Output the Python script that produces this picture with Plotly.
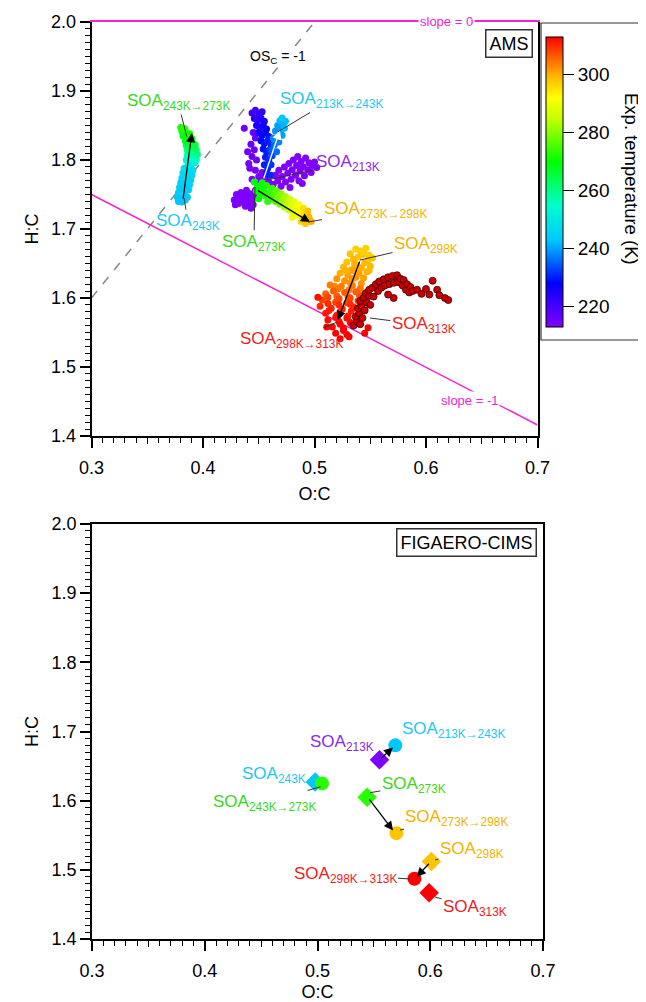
import plotly.graph_objects as go

# the page puts the figure 8 px from the top-left corner, so the figure is 8 px smaller
OFF = 8
FW, FH = 646 - OFF, 1002 - OFF
FONT = "Liberation Sans, Arial, sans-serif"
MAGENTA = "#f025d5"


def px_x(p):
    return (p - OFF) / FW


def px_y(p):
    return 1 - (p - OFF) / FH


# ---------------- AMS data (O:C, H:C, experiment temperature K) ----------------
ams_243_oc = [0.378, 0.381, 0.384, 0.377, 0.380, 0.383, 0.386, 0.378, 0.381, 0.384, 0.387, 0.379, 0.382, 0.385,
              0.388, 0.380, 0.383, 0.386, 0.389, 0.381, 0.384, 0.387, 0.390, 0.382, 0.385, 0.388, 0.391, 0.383,
              0.386, 0.389]
ams_243_hc = [1.740, 1.739, 1.742, 1.746, 1.747, 1.749, 1.746, 1.753, 1.755, 1.754, 1.757, 1.760, 1.762, 1.761,
              1.764, 1.767, 1.769, 1.768, 1.771, 1.774, 1.776, 1.775, 1.778, 1.781, 1.783, 1.782, 1.785, 1.788,
              1.790, 1.789]
ams_243_T = [243, 243, 243, 243, 243, 243, 243, 244, 244, 244, 244, 244, 244, 244,
             245, 245, 245, 245, 245, 246, 246, 246, 246, 247, 247, 247, 247, 248,
             248, 248]

ams_243_273_oc = [0.387, 0.390, 0.393, 0.385, 0.388, 0.391, 0.394, 0.386, 0.389, 0.392, 0.395, 0.386, 0.389, 0.392,
                  0.394, 0.385, 0.388, 0.391, 0.393, 0.384, 0.387, 0.390, 0.382, 0.385, 0.388, 0.381, 0.384, 0.380,
                  0.383]
ams_243_273_hc = [1.795, 1.797, 1.796, 1.800, 1.802, 1.803, 1.801, 1.807, 1.809, 1.810, 1.808, 1.814, 1.816, 1.817,
                  1.815, 1.821, 1.823, 1.824, 1.822, 1.828, 1.830, 1.831, 1.835, 1.837, 1.838, 1.842, 1.844, 1.847,
                  1.846]
ams_243_273_T = [250, 251, 252, 253, 254, 255, 256, 257, 258, 259, 260, 261, 262, 263,
                 263, 264, 265, 266, 266, 267, 268, 269, 270, 270, 271, 271, 272, 272,
                 273]

ams_213_oc = [0.428, 0.430, 0.432, 0.433, 0.434, 0.436, 0.437, 0.438, 0.439, 0.440, 0.441, 0.442, 0.444, 0.445,
              0.446, 0.447, 0.429, 0.443,
              0.449, 0.452, 0.455, 0.450, 0.456, 0.459, 0.461, 0.453, 0.447, 0.444,
              0.441, 0.444, 0.446, 0.443, 0.447, 0.437, 0.440, 0.442, 0.448, 0.445,
              0.463, 0.465, 0.467, 0.468, 0.470, 0.471, 0.473, 0.474, 0.476, 0.477, 0.479, 0.480, 0.481, 0.483,
              0.484, 0.486, 0.487, 0.488, 0.490, 0.491, 0.492, 0.494, 0.495, 0.497, 0.498, 0.500, 0.502, 0.485,
              0.478, 0.489]
ams_213_hc = [1.742, 1.750, 1.737, 1.745, 1.753, 1.740, 1.748, 1.733, 1.756, 1.744, 1.737, 1.751, 1.742, 1.735,
              1.748, 1.756, 1.735, 1.730,
              1.765, 1.770, 1.765, 1.776, 1.775, 1.768, 1.778, 1.782, 1.785, 1.772,
              1.795, 1.805, 1.815, 1.823, 1.832, 1.846, 1.812, 1.788, 1.800, 1.840,
              1.765, 1.778, 1.770, 1.785, 1.762, 1.776, 1.790, 1.768, 1.781, 1.795, 1.772, 1.786, 1.800, 1.778,
              1.792, 1.770, 1.784, 1.798, 1.790, 1.777, 1.803, 1.786, 1.796, 1.782, 1.792, 1.797, 1.789, 1.805,
              1.760, 1.766]
ams_213_T = [213, 213, 213, 213, 213, 213, 213, 213, 213, 213, 213, 213, 213, 213,
             213, 213, 213, 213,
             214, 214, 213, 214, 214, 213, 213, 214, 214, 213,
             214, 215, 215, 216, 216, 215, 215, 214, 215, 216,
             213, 213, 213, 213, 213, 213, 213, 213, 213, 213, 213, 213, 213, 213,
             213, 213, 213, 213, 213, 213, 213, 213, 213, 213, 213, 213, 213, 213,
             213, 213]

ams_213_243_oc = [0.444, 0.447, 0.450, 0.453, 0.446, 0.449, 0.452, 0.455, 0.448, 0.451, 0.454, 0.457, 0.450, 0.453,
                  0.456, 0.459, 0.452, 0.455, 0.458, 0.461, 0.454, 0.457, 0.460, 0.456, 0.459, 0.462, 0.455, 0.458,
                  0.461, 0.457, 0.460,
                  0.462, 0.464, 0.466, 0.463, 0.468, 0.465, 0.470, 0.467, 0.472, 0.469, 0.474, 0.471, 0.466, 0.468,
                  0.471, 0.473]
ams_213_243_hc = [1.868, 1.872, 1.866, 1.870, 1.860, 1.857, 1.861, 1.856, 1.850, 1.846, 1.850, 1.845, 1.840, 1.836,
                  1.840, 1.834, 1.828, 1.824, 1.828, 1.822, 1.816, 1.812, 1.815, 1.804, 1.800, 1.806, 1.793, 1.788,
                  1.793, 1.781, 1.778,
                  1.814, 1.822, 1.830, 1.832, 1.838, 1.842, 1.845, 1.850, 1.852, 1.857, 1.856, 1.861, 1.812, 1.826,
                  1.836, 1.846]
ams_213_243_T = [221, 220, 222, 223, 223, 222, 224, 225, 225, 224, 226, 227, 226, 227,
                 228, 229, 228, 229, 230, 231, 229, 230, 232, 230, 231, 233, 230, 231,
                 232, 230, 231,
                 235, 236, 237, 238, 239, 239, 240, 240, 241, 242, 242, 243, 236, 238,
                 240, 242]

ams_273_298_oc = [0.446, 0.449, 0.451, 0.448, 0.453, 0.454, 0.456, 0.457, 0.459, 0.460, 0.462, 0.463, 0.465, 0.466,
                  0.467, 0.469, 0.470, 0.471, 0.473, 0.474, 0.475, 0.477, 0.478, 0.479, 0.481, 0.482, 0.483, 0.485,
                  0.486, 0.487, 0.489, 0.490, 0.491, 0.493, 0.494, 0.495, 0.497, 0.488, 0.492, 0.480, 0.458, 0.450]
ams_273_298_hc = [1.768, 1.762, 1.752, 1.755, 1.767, 1.757, 1.748, 1.763, 1.753, 1.744, 1.759, 1.749, 1.740, 1.755,
                  1.745, 1.736, 1.751, 1.741, 1.732, 1.747, 1.737, 1.728, 1.743, 1.733, 1.724, 1.739, 1.729, 1.720,
                  1.735, 1.725, 1.716, 1.730, 1.721, 1.713, 1.726, 1.717, 1.711, 1.711, 1.708, 1.717, 1.740, 1.744]
ams_273_298_T = [269, 270, 270, 270, 271, 271, 272, 272, 273, 274, 274, 275, 276, 277,
                 278, 279, 280, 281, 282, 283, 284, 285, 286, 287, 288, 289, 290, 291,
                 292, 293, 294, 295, 296, 297, 298, 299, 300, 296, 298, 290, 273, 270]

ams_298_oc = [0.537, 0.541, 0.546, 0.549, 0.532, 0.539, 0.543, 0.548, 0.552, 0.529, 0.535, 0.538, 0.545, 0.550,
              0.526, 0.533, 0.536, 0.542, 0.547, 0.523, 0.530, 0.535, 0.540, 0.544, 0.520, 0.527, 0.532, 0.537,
              0.542, 0.518, 0.544, 0.534, 0.549, 0.528]
ams_298_hc = [1.671, 1.668, 1.672, 1.662, 1.664, 1.659, 1.663, 1.655, 1.658, 1.652, 1.656, 1.648, 1.651, 1.646,
              1.645, 1.641, 1.649, 1.644, 1.638, 1.636, 1.633, 1.640, 1.636, 1.629, 1.628, 1.625, 1.622, 1.630,
              1.621, 1.617, 1.666, 1.628, 1.640, 1.640]
ams_298_T = [297, 297, 297, 297, 298, 298, 298, 298, 298, 298, 299, 299, 299, 299,
             299, 300, 300, 300, 300, 300, 301, 301, 301, 301, 302, 302, 302, 302,
             302, 303, 297, 302, 299, 300]

ams_298_313_oc = [0.514, 0.521, 0.524, 0.531, 0.534, 0.541,
                  0.510, 0.517, 0.520, 0.527, 0.530, 0.537, 0.540,
                  0.507, 0.512, 0.519, 0.522, 0.529, 0.532, 0.539, 0.542,
                  0.505, 0.512, 0.515, 0.522, 0.525, 0.532, 0.535, 0.542,
                  0.510, 0.513, 0.520, 0.523, 0.530, 0.533, 0.540,
                  0.512, 0.519, 0.522, 0.529, 0.532, 0.539,
                  0.516, 0.523, 0.526, 0.533,
                  0.519, 0.526, 0.529,
                  0.523, 0.531,
                  0.503, 0.511, 0.545, 0.548]
ams_298_313_hc = [1.619, 1.613, 1.617, 1.612, 1.618, 1.614,
                  1.606, 1.610, 1.603, 1.608, 1.602, 1.609, 1.605,
                  1.597, 1.601, 1.594, 1.599, 1.593, 1.600, 1.596, 1.602,
                  1.588, 1.592, 1.585, 1.590, 1.584, 1.591, 1.587, 1.593,
                  1.578, 1.582, 1.575, 1.580, 1.574, 1.581, 1.577,
                  1.568, 1.572, 1.566, 1.571, 1.565, 1.573,
                  1.558, 1.562, 1.556, 1.563,
                  1.549, 1.553, 1.547,
                  1.541, 1.544,
                  1.601, 1.558, 1.549, 1.557]
ams_298_313_T = [304, 304, 304, 304, 304, 304,
                 306, 306, 306, 306, 306, 306, 306,
                 308, 308, 308, 308, 308, 308, 308, 308,
                 310, 310, 310, 310, 310, 310, 310, 310,
                 311, 311, 311, 311, 311, 311, 311,
                 312, 312, 312, 312, 312, 312,
                 313, 313, 313, 313,
                 313, 313, 313,
                 313, 313,
                 312, 313, 313, 313]

ams_313_oc = [0.535, 0.538, 0.541, 0.537, 0.540, 0.543, 0.539, 0.542, 0.545, 0.541, 0.544, 0.547, 0.546, 0.549,
              0.550, 0.549, 0.552, 0.553, 0.555, 0.557, 0.558, 0.560, 0.562, 0.563, 0.566, 0.567, 0.570, 0.571,
              0.574, 0.575, 0.577, 0.579, 0.580, 0.582, 0.583, 0.585, 0.586, 0.588, 0.592, 0.596, 0.600, 0.603,
              0.606, 0.610, 0.612, 0.617, 0.620, 0.571, 0.566]
ams_313_hc = [1.560, 1.566, 1.562, 1.573, 1.578, 1.571, 1.585, 1.589, 1.582, 1.596, 1.600, 1.593, 1.607, 1.603,
              1.590, 1.612, 1.615, 1.602, 1.620, 1.610, 1.624, 1.615, 1.627, 1.618, 1.630, 1.620, 1.632, 1.622,
              1.633, 1.623, 1.628, 1.618, 1.626, 1.612, 1.620, 1.608, 1.616, 1.610, 1.612, 1.606, 1.613, 1.605,
              1.625, 1.612, 1.604, 1.600, 1.597, 1.600, 1.605]

# ---------------- FIGAERO-CIMS data ----------------
cims_ss_oc = [0.555, 0.498, 0.544, 0.601, 0.599]          # steady states (diamonds)
cims_ss_hc = [1.659, 1.627, 1.605, 1.512, 1.467]
cims_ss_T = [213, 243, 273, 298, 313]
cims_tr_oc = [0.569, 0.504, 0.570, 0.586]                 # transitions (circles)
cims_tr_hc = [1.680, 1.625, 1.553, 1.487]
cims_tr_T = [243, 273, 298, 313]

# reference lines
slopem1_oc = [0.3, 0.7]
slopem1_hc = [1.75, 1.416]
osc_oc = [0.3, 0.5]
osc_hc = [1.6, 2.0]

# colours
C_VIO, C_CYAN, C_GREEN, C_ORANGE, C_RED = "#8a2be2", "#1ec8f0", "#3ad81a", "#f2b200", "#ee1c1c"

# labels: text, colour, text position, leader end (or None)
ams_labels = [
    ("SOA<sub>243K→273K</sub>", C_GREEN, (0.3776, 1.884), (0.3854, 1.834)),
    ("SOA<sub>243K</sub>", C_CYAN, (0.3865, 1.710), (0.3830, 1.745)),
    ("SOA<sub>213K→243K</sub>", C_CYAN, (0.5148, 1.887), (0.4673, 1.841)),
    ("SOA<sub>213K</sub>", C_VIO, (0.5300, 1.796), (0.4574, 1.771)),
    ("SOA<sub>273K</sub>", C_GREEN, (0.4457, 1.680), (0.4466, 1.761)),
    ("SOA<sub>273K→298K</sub>", C_ORANGE, (0.5543, 1.7275), (0.4942, 1.710)),
    ("SOA<sub>298K</sub>", C_ORANGE, (0.6000, 1.677), (0.5408, 1.655)),
    ("SOA<sub>298K→313K</sub>", C_RED, (0.4798, 1.539), (0.5202, 1.565)),
    ("SOA<sub>313K</sub>", C_RED, (0.5980, 1.561), (0.5498, 1.571)),
]
ams_arrows = [  # tail, head, colour
    ((0.382, 1.742), (0.390, 1.839), "black"),
    ((0.454, 1.771), (0.469, 1.843), "white"),
    ((0.448, 1.757), (0.496, 1.710), "black"),
    ((0.541, 1.655), (0.521, 1.568), "black"),
]
cims_labels = [
    ("SOA<sub>213K</sub>", C_VIO, (0.5217, 1.6834), None),
    ("SOA<sub>213K→243K</sub>", C_CYAN, (0.6202, 1.7022), None),
    ("SOA<sub>243K</sub>", C_CYAN, (0.4614, 1.6371), None),
    ("SOA<sub>243K→273K</sub>", C_GREEN, (0.4534, 1.5966), (0.5028, 1.6202)),
    ("SOA<sub>273K</sub>", C_GREEN, (0.5856, 1.6227), (0.5466, 1.6115)),
    ("SOA<sub>273K→298K</sub>", C_ORANGE, (0.6237, 1.5750), (0.5732, 1.5576)),
    ("SOA<sub>298K</sub>", C_ORANGE, (0.6370, 1.5287), (0.6042, 1.5142)),
    ("SOA<sub>298K→313K</sub>", C_RED, (0.5244, 1.4925), (0.5820, 1.4868)),
    ("SOA<sub>313K</sub>", C_RED, (0.6397, 1.4448), (0.6042, 1.4607)),
]
cims_arrows = [
    ((0.555, 1.659), (0.567, 1.677), "black"),
    ((0.545, 1.604), (0.567, 1.557), "black"),
    ((0.600, 1.511), (0.588, 1.490), "black"),
]

colorscale = [[0.0, "#8000ff"], [0.15, "#0000ff"], [0.30, "#00c8ff"], [0.42, "#00ffcc"],
              [0.57, "#00ff00"], [0.72, "#c8ff00"], [0.79, "#ffff00"], [0.87, "#ffb000"], [1.0, "#ff0000"]]

fig = go.Figure()


def pts(oc, hc, T, xa, ya, size=7):
    fig.add_trace(go.Scatter(x=oc, y=hc, mode="markers", xaxis=xa, yaxis=ya, showlegend=False,
                             marker=dict(size=size, color=T, coloraxis="coloraxis", line=dict(width=0))))


# reference lines (top panel)
fig.add_trace(go.Scatter(x=osc_oc, y=osc_hc, mode="lines", xaxis="x", yaxis="y", showlegend=False,
                         line=dict(color="#888888", width=1.5, dash="dash")))
fig.add_trace(go.Scatter(x=slopem1_oc, y=slopem1_hc, mode="lines", xaxis="x", yaxis="y", showlegend=False,
                         line=dict(color=MAGENTA, width=1.5)))

pts(ams_243_oc, ams_243_hc, ams_243_T, "x", "y")
pts(ams_243_273_oc, ams_243_273_hc, ams_243_273_T, "x", "y")
pts(ams_213_oc, ams_213_hc, ams_213_T, "x", "y")
pts(ams_213_243_oc, ams_213_243_hc, ams_213_243_T, "x", "y")
pts(ams_273_298_oc, ams_273_298_hc, ams_273_298_T, "x", "y")
pts(ams_298_oc, ams_298_hc, ams_298_T, "x", "y")
pts(ams_298_313_oc, ams_298_313_hc, ams_298_313_T, "x", "y")
fig.add_trace(go.Scatter(x=ams_313_oc, y=ams_313_hc, mode="markers", xaxis="x", yaxis="y", showlegend=False,
                         marker=dict(size=7, color="#cc0000", line=dict(color="#3a0000", width=0.8))))

# FIGAERO-CIMS
fig.add_trace(go.Scatter(x=cims_ss_oc, y=cims_ss_hc, mode="markers", xaxis="x2", yaxis="y2", showlegend=False,
                         marker=dict(size=15, symbol="diamond", color=cims_ss_T, coloraxis="coloraxis",
                                     line=dict(width=0))))
fig.add_trace(go.Scatter(x=cims_tr_oc, y=cims_tr_hc, mode="markers", xaxis="x2", yaxis="y2", showlegend=False,
                         marker=dict(size=14, symbol="circle", color=cims_tr_T, coloraxis="coloraxis",
                                     line=dict(width=0))))

# dummy traces so that the auxiliary overlay axes are drawn
for xa, ya in (("x3", "y"), ("x4", "y"), ("x5", "y2")):
    fig.add_trace(go.Scatter(x=[None], y=[None], xaxis=xa, yaxis=ya, showlegend=False, hoverinfo="skip"))

ann = []


def add_labels(labels, xr, yr, size=17):
    for text, col, (tx, ty), end in labels:
        if end is None:
            ann.append(dict(text=text, x=tx, y=ty, xref=xr, yref=yr, showarrow=False,
                            font=dict(color=col, size=size, family=FONT)))
        else:
            ann.append(dict(text=text, x=end[0], y=end[1], ax=tx, ay=ty, xref=xr, yref=yr, axref=xr, ayref=yr,
                            showarrow=True, arrowhead=0, arrowwidth=1, arrowcolor="#333333", standoff=0,
                            font=dict(color=col, size=size, family=FONT)))


def add_arrows(arrows, xr, yr):
    for (x0, y0), (x1, y1), col in arrows:
        ann.append(dict(text="", x=x1, y=y1, ax=x0, ay=y0, xref=xr, yref=yr, axref=xr, ayref=yr,
                        showarrow=True, arrowhead=2, arrowsize=1.4, arrowwidth=1.3, arrowcolor=col, standoff=0))


add_arrows(ams_arrows, "x", "y")
add_arrows(cims_arrows, "x2", "y2")
add_labels(ams_labels, "x", "y")
add_labels(cims_labels, "x2", "y2")

# line labels
ann.append(dict(text="slope = 0", x=0.618, y=2.0, xref="x", yref="y", showarrow=False, bgcolor="white",
                font=dict(color=MAGENTA, size=13, family=FONT), borderpad=1))
ann.append(dict(text="slope = -1", x=0.639, y=1.452, xref="x", yref="y", showarrow=False, bgcolor="white",
                font=dict(color=MAGENTA, size=13, family=FONT), borderpad=1))
ann.append(dict(text="OS<sub>C</sub> = -1", x=0.467, y=1.949, xref="x", yref="y", showarrow=False,
                bgcolor="white", font=dict(color="black", size=14, family=FONT), borderpad=1))
# panel tags
ann.append(dict(text="AMS", x=0.99, y=0.983, xref="x domain", yref="y domain", xanchor="right", yanchor="top",
                showarrow=False, bgcolor="white", bordercolor="#333333", borderwidth=1.5, borderpad=3,
                font=dict(size=18, family=FONT, color="black")))
ann.append(dict(text="FIGAERO-CIMS", x=0.987, y=0.99, xref="x2 domain", yref="y2 domain", xanchor="right",
                yanchor="top", showarrow=False, bgcolor="white", bordercolor="#333333", borderwidth=1.5,
                borderpad=3, font=dict(size=18, family=FONT, color="black")))
# colorbar title
ann.append(dict(text="Exp. temperature (K)", x=px_x(631), y=px_y(179), xref="paper", yref="paper",
                xanchor="center", yanchor="middle", textangle=90, showarrow=False,
                font=dict(size=18.5, family=FONT, color="black")))

axis_common = dict(showline=True, linecolor="black", linewidth=1.5, ticks="outside", ticklen=10, tickwidth=1.5,
                   tickcolor="black", showgrid=False, zeroline=False, tickmode="linear", dtick=0.1,
                   tickformat=".1f", tickfont=dict(size=18, family=FONT, color="black"),
                   title_font=dict(size=18, family=FONT, color="black"), automargin=False,
                   minor=dict(ticks="outside", ticklen=5, tickwidth=1.2, tickcolor="black", dtick=0.01))
aux_common = dict(automargin=False, showgrid=False, zeroline=False, showticklabels=False, range=[0.3, 0.7])

x_top = (px_x(91.5), px_x(537.5))
y_top = (px_y(436), px_y(22))
x_bot = (px_x(92), px_x(543))
y_bot = (px_y(939), px_y(524))

fig.update_layout(
    width=FW, height=FH, margin=dict(l=0, r=0, t=0, b=0, autoexpand=False), paper_bgcolor="white",
    plot_bgcolor="white", font=dict(family=FONT, color="black"),
    xaxis=dict(axis_common, domain=x_top, range=[0.3, 0.7], tick0=0.3, anchor="y", mirror=False,
               ticklabelstandoff=5, title=dict(text="O:C", standoff=10)),
    yaxis=dict(axis_common, domain=y_top, range=[1.4, 2.0], tick0=1.4, anchor="x", mirror=True,
               title=dict(text="H:C", standoff=8)),
    xaxis2=dict(axis_common, domain=x_bot, range=[0.3, 0.7], tick0=0.3, anchor="y2", mirror=True,
                ticklabelstandoff=5, title=dict(text="O:C", standoff=10)),
    yaxis2=dict(axis_common, domain=y_bot, range=[1.4, 2.0], tick0=1.4, anchor="x2", mirror=True,
                title=dict(text="H:C", standoff=8)),
    xaxis3=dict(aux_common, overlaying="x", anchor="y", tickmode="linear", tick0=0.3, dtick=0.05,
                ticks="outside", ticklen=7, tickwidth=1.2, tickcolor="black", showline=False),
    xaxis4=dict(aux_common, overlaying="x", anchor="y", side="top", ticks="", showline=True,
                linecolor=MAGENTA, linewidth=1.5),
    xaxis5=dict(aux_common, overlaying="x2", anchor="y2", tickmode="linear", tick0=0.3, dtick=0.05,
                ticks="outside", ticklen=7, tickwidth=1.2, tickcolor="black", showline=False),
    coloraxis=dict(colorscale=colorscale, cmin=213, cmax=313,
                   colorbar=dict(x=px_x(546), xanchor="left", xpad=0, y=px_y(182), yanchor="middle", ypad=0,
                                 len=290 / FH, lenmode="fraction", thickness=17, thicknessmode="pixels",
                                 outlinewidth=1, outlinecolor="black", ticks="outside", ticklen=11,
                                 tickwidth=1.2, tickcolor="black", tickvals=[220, 240, 260, 280, 300],
                                 tickfont=dict(size=19, family=FONT, color="black"), borderwidth=0)),
    annotations=ann,
    shapes=[dict(type="rect", xref="paper", yref="paper", x0=px_x(541), x1=1.2, y0=px_y(340), y1=px_y(23),
                 line=dict(color="#333333", width=1.2))],
)

fig.write_html("out.html")
